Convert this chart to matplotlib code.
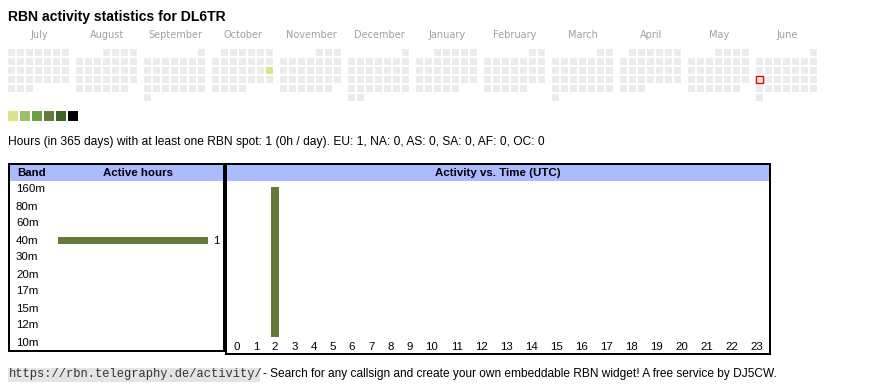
import matplotlib
matplotlib.use("Agg")
import matplotlib.pyplot as plt
from matplotlib.patches import Rectangle
from matplotlib.transforms import blended_transform_factory
import datetime as dt
import calendar

# ---------------- data ----------------
callsign = "DL6TR"
months = ["July", "August", "September", "October", "November", "December",
          "January", "February", "March", "April", "May", "June"]
first_year, first_month = 2024, 7
active_dates = ["2024-10-20"]
active_levels = [1]
today = "2025-06-16"
legend_colors = ["#dce38b", "#9dc066", "#6a9f41", "#657a38", "#3b6526", "#000000"]
bands = ["160m", "80m", "60m", "40m", "30m", "20m", "17m", "15m", "12m", "10m"]
band_hours = [0, 0, 0, 1, 0, 0, 0, 0, 0, 0]
hours = list(range(24))
hour_activity = [0, 0, 1, 0, 0, 0, 0, 0, 0, 0, 0, 0,
                 0, 0, 0, 0, 0, 0, 0, 0, 0, 0, 0, 0]
summary_total = 1
continents = ["EU", "NA", "AS", "SA", "AF", "OC"]
continent_hours = [1, 0, 0, 0, 0, 0]

# ---------------- styling ----------------
W, H = 870, 390
PT = 0.72  # px -> pt at dpi 100
SANS = ["Liberation Sans", "DejaVu Sans"]
GREY_CELL = "#ebebeb"
HEADER_BLUE = "#aabbff"
BAR = "#657a38"

fig = plt.figure(figsize=(W / 100, H / 100), dpi=100)
fig.patch.set_facecolor("white")
ov = fig.add_axes([0, 0, 1, 1])
ov.set_xlim(0, W)
ov.set_ylim(H, 0)
ov.axis("off")


def px_axes(x, y, w, h):
    a = fig.add_axes([x / W, 1 - (y + h) / H, w / W, h / H])
    a.patch.set_alpha(0)
    for s in a.spines.values():
        s.set_visible(False)
    return a


# title
ov.text(8, 16.5, f"RBN activity statistics for {callsign}", fontsize=14.0 * PT,
        fontweight="bold", family=SANS, va="center", ha="left")

# ---------------- calendar ----------------
cal_left, cal_top, pitch, cell, block = 8, 49, 9, 7, 68
active_map = dict(zip(active_dates, active_levels))
for m, name in enumerate(months):
    y = first_year + (first_month - 1 + m) // 12
    mo = (first_month - 1 + m) % 12 + 1
    x0 = cal_left + block * m
    ov.text(x0 + 31, 35, name, fontsize=9.8 * PT, color="#a0a0a0",
            family="DejaVu Sans", ha="center", va="center")
    fw, nd = calendar.monthrange(y, mo)
    for d in range(1, nd + 1):
        date = dt.date(y, mo, d)
        col = date.weekday()
        row = (d - 1 + fw) // 7
        key = date.isoformat()
        fc = GREY_CELL
        if key in active_map:
            fc = legend_colors[active_map[key] - 1]
        ec = "none"
        lw = 0
        if key == today:
            fc = "#f4f4f4"
            ec = "#dd0000"
            lw = 1.0
        ov.add_patch(Rectangle((x0 + pitch * col, cal_top + pitch * row), cell, cell,
                               facecolor=fc, edgecolor=ec, linewidth=lw))

# legend squares
for i, c in enumerate(legend_colors):
    ov.add_patch(Rectangle((8 + 12 * i, 111), 10, 10, facecolor=c, edgecolor="none"))

cont_txt = ", ".join(f"{c}: {v}" for c, v in zip(continents, continent_hours))
ov.text(8, 142, f"Hours (in 365 days) with at least one RBN spot: {summary_total} "
        f"({summary_total // 365}h / day). {cont_txt}",
        fontsize=12.0 * PT, family=SANS, va="center", ha="left")

# ---------------- table frames ----------------
ov.add_patch(Rectangle((10, 165), 213, 16, facecolor=HEADER_BLUE, edgecolor="none"))
ov.add_patch(Rectangle((227, 165), 542, 16, facecolor=HEADER_BLUE, edgecolor="none"))
# left box
ov.add_patch(Rectangle((9, 164), 215, 187, facecolor="none", edgecolor="black", linewidth=2 * PT))
# right box
ov.add_patch(Rectangle((226, 164), 544, 190, facecolor="none", edgecolor="black", linewidth=2 * PT))

ov.text(17, 173, "Band", fontsize=11.5 * PT, fontweight="bold", family=SANS, va="center", ha="left")
ov.text(138, 173, "Active hours", fontsize=11.5 * PT, fontweight="bold", family=SANS,
        va="center", ha="center")
ov.text(498, 173, "Activity vs. Time (UTC)", fontsize=11.5 * PT, fontweight="bold",
        family=SANS, va="center", ha="center")

# ---------------- band bars ----------------
axL = px_axes(58, 181, 150, 170)
yb = list(range(len(bands)))
axL.barh(yb, band_hours, height=0.36, color=BAR)
axL.set_xlim(0, max(band_hours))
axL.set_ylim(len(bands) - 0.5, -0.5)
axL.set_xticks([])
axL.set_yticks([])
tr = blended_transform_factory(ov.transData, axL.transData)
for i, (b, v) in enumerate(zip(bands, band_hours)):
    ov.text(16, i, b, transform=tr, fontsize=11.5 * PT, family=SANS, va="center", ha="left")
    if v > 0:
        axL.annotate(str(v), (v, i), xytext=(3.5, 0), textcoords="offset points",
                     fontsize=11.5 * PT, family=SANS, va="center", ha="left",
                     annotation_clip=False)

# ---------------- hour bars ----------------
axR = px_axes(227, 187, 542, 150)
widths = [19.25 if h < 10 else 24.96 for h in hours]
centers = []
acc = 0
for w in widths:
    centers.append(acc + w / 2)
    acc += w
axR.bar(centers, hour_activity, width=8, color=BAR)
axR.set_xlim(0, 542)
axR.set_ylim(0, max(hour_activity))
axR.set_yticks([])
axR.set_xticks(centers)
axR.set_xticklabels([str(h) for h in hours], fontsize=11.5 * PT, family=SANS)
axR.tick_params(axis="x", length=0, pad=3.5)

# ---------------- footer ----------------
ov.add_patch(Rectangle((8, 367.5), 252, 14, facecolor="#e4e4e4", edgecolor="none"))
ov.text(9, 374.5, "https://rbn.telegraphy.de/activity/", fontsize=12 * PT,
        family=["Liberation Mono", "DejaVu Sans Mono"], va="center", ha="left", color="#333333")
ov.text(263, 374.5, "- Search for any callsign and create your own embeddable RBN widget! "
        "A free service by DJ5CW.", fontsize=11.95 * PT, family=SANS, va="center", ha="left")

fig.savefig("out.png", dpi=100, facecolor="white")
